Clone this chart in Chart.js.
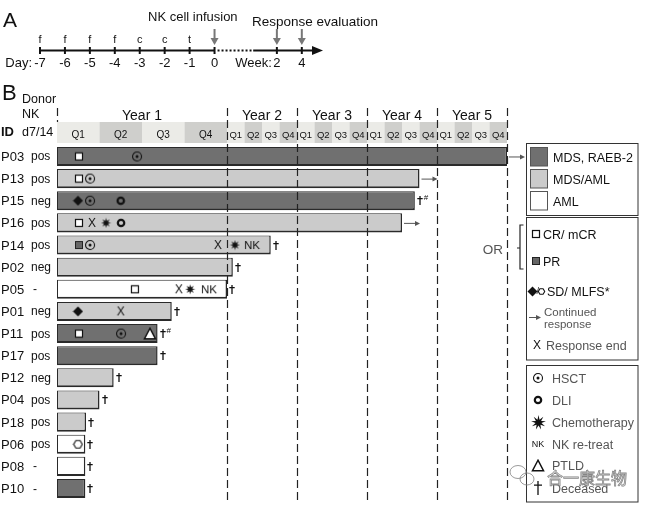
<!DOCTYPE html>
<html>
<head>
<meta charset="utf-8">
<script src="https://cdn.jsdelivr.net/npm/chart.js@4.4.1/dist/chart.umd.min.js"></script>
<style>
	body { margin: 0; background: #fff; }
	#wrap { position: relative; width: 646px; height: 506px; }
	canvas { position: absolute; left: 0; }
	#timeline { top: 0; }
	#swimmer { top: 80px; }
</style>
</head>
<body>
<div id="wrap">
	<canvas id="timeline" width="646" height="80"></canvas>
	<canvas id="swimmer" width="646" height="426"></canvas>
</div>
<script>
// panel A: treatment timeline
const dayPos = [-7, -6, -5, -4, -3, -2, -1, 0];
const dayLabels = ["-7", "-6", "-5", "-4", "-3", "-2", "-1", "0"];
const regimen = ["f", "f", "f", "f", "c", "c", "t"];
const weekPos = [2.5, 3.5];
const weekLabels = ["2", "4"];

// panel B: swimmer plot (months of follow-up)
const patients = ["P03", "P13", "P15", "P16", "P14", "P02", "P05", "P01", "P11", "P17", "P12", "P04", "P18", "P06", "P08", "P10"];
const donorNK = ["pos", "pos", "neg", "pos", "pos", "neg", "-", "neg", "pos", "pos", "neg", "pos", "pos", "pos", "-", "-"];
const diagnosis = ["MDS, RAEB-2", "MDS/AML", "MDS, RAEB-2", "MDS/AML", "MDS/AML", "MDS/AML", "AML", "MDS/AML",
	"MDS, RAEB-2", "MDS, RAEB-2", "MDS/AML", "MDS/AML", "MDS/AML", "AML", "AML", "MDS, RAEB-2"];
const followUp = [60, 45, 44.2, 42, 19.5, 13, 12, 8.1, 7.1, 7.1, 4, 3, 2.05, 2, 2, 2];

const years = ["Year 1", "Year 2", "Year 3", "Year 4", "Year 5"];
const quarters = ["Q1", "Q2", "Q3", "Q4"];

const crMarks = [["P03", 1.55], ["P13", 1.55], ["P16", 1.55], ["P05", 5.5], ["P11", 1.55]];
const prMarks = [["P14", 1.55]];
const sdMarks = [["P15", 1.48], ["P01", 1.48]];
const mlfsMarks = [["P06", 1.48]];
const hsctMarks = [["P03", 5.65], ["P13", 2.33], ["P15", 2.33], ["P14", 2.33], ["P11", 4.52]];
const dliMarks = [["P15", 4.5], ["P16", 4.52]];
const chemoMarks = [["P16", 3.46], ["P14", 13.37], ["P05", 9.4]];
const nkMarks = [["P14", 16.3], ["P05", 10.73]];
const endMarks = [["P16", 2.47], ["P14", 11.36], ["P05", 8.6], ["P01", 4.5]];
const ptldMarks = [["P11", 6.56]];
const deceased = ["P15", "P14", "P02", "P05", "P01", "P11", "P17", "P12", "P04", "P18", "P06", "P08", "P10"];
const hashNote = ["P15", "P11"];
const continued = ["P03", "P13", "P16"];

const diagLabels = ["MDS, RAEB-2", "MDS/AML", "AML"];
const diagColors = ["#707070", "#cbcbcb", "#ffffff"];
const responseLegend = ["CR/ mCR", "PR", "SD/ MLFS*", "Continued", "response", "Response end"];
const eventLegend = ["HSCT", "DLI", "Chemotherapy", "NK re-treat", "PTLD", "Deceased"];

const FONT = "'Liberation Sans', Arial, sans-serif";
Chart.defaults.font.family = FONT;
Chart.defaults.color = "#111";

// year 1 is drawn wider than the later years
const Y1 = 170 / 450;
class SwimScale extends Chart.LinearScale {
	getPixelForValue(v) {
		const f = v <= 12 ? (v / 12) * Y1 : Y1 + ((v - 12) / 48) * (1 - Y1);
		return this.left + f * this.width;
	}
	getValueForPixel(p) {
		const f = (p - this.left) / this.width;
		return f <= Y1 ? (f / Y1) * 12 : 12 + ((f - Y1) / (1 - Y1)) * 48;
	}
}
SwimScale.id = "swim";
SwimScale.defaults = Chart.LinearScale.defaults;
Chart.register(SwimScale);

function makeIcon(w, h, draw) {
	const c = document.createElement("canvas");
	c.width = w;
	c.height = h;
	draw(c.getContext("2d"), w / 2, h / 2);
	return c;
}
function burst(g, cx, cy, ro, ri, n) {
	g.fillStyle = "#111";
	g.beginPath();
	for (let i = 0; i < n * 2; i++) {
		const r = i % 2 ? ri : ro;
		const a = (Math.PI * i) / n - Math.PI / 2;
		g.lineTo(cx + r * Math.cos(a), cy + r * Math.sin(a));
	}
	g.closePath();
	g.fill();
}
function hexagon(g, cx, cy, r) {
	g.fillStyle = "#fff";
	g.strokeStyle = "#111";
	g.lineWidth = 1.1;
	g.beginPath();
	for (let i = 0; i < 6; i++) {
		const a = (Math.PI * i) / 3;
		g.lineTo(cx + r * Math.cos(a), cy + r * Math.sin(a));
	}
	g.closePath();
	g.fill();
	g.stroke();
}
function textIcon(w, h, txt, size) {
	return makeIcon(w, h, (g, cx, cy) => {
		g.fillStyle = "#111";
		g.font = size + "px " + FONT;
		g.textAlign = "center";
		g.textBaseline = "middle";
		g.fillText(txt, cx, cy + 0.5);
	});
}
function daggerIcon(h) {
	return makeIcon(8, h, (g, cx) => {
		g.strokeStyle = "#111";
		g.lineWidth = 1.3;
		g.beginPath();
		g.moveTo(cx, 0);
		g.lineTo(cx, h);
		g.moveTo(cx - h * 0.3, h * 0.3);
		g.lineTo(cx + h * 0.3, h * 0.3);
		g.stroke();
	});
}

const icons = {
	cr: makeIcon(10, 10, (g) => {
		g.fillStyle = "#fff";
		g.fillRect(1, 1, 8, 8);
		g.strokeStyle = "#111";
		g.lineWidth = 1.2;
		g.strokeRect(1.5, 1.5, 7, 7);
	}),
	pr: makeIcon(10, 10, (g) => {
		g.fillStyle = "#666";
		g.fillRect(1, 1, 8, 8);
		g.strokeStyle = "#222";
		g.lineWidth = 1;
		g.strokeRect(1.5, 1.5, 7, 7);
	}),
	sd: makeIcon(11, 11, (g, cx, cy) => {
		g.fillStyle = "#111";
		g.beginPath();
		g.moveTo(cx, 0.5);
		g.lineTo(10.5, cy);
		g.lineTo(cx, 10.5);
		g.lineTo(0.5, cy);
		g.closePath();
		g.fill();
	}),
	mlfs: makeIcon(11, 11, (g, cx, cy) => hexagon(g, cx, cy, 4.3)),
	mlfsSmall: makeIcon(9, 9, (g, cx, cy) => hexagon(g, cx, cy, 3.2)),
	hsct: makeIcon(12, 12, (g, cx, cy) => {
		g.strokeStyle = "#111";
		g.lineWidth = 1.1;
		g.beginPath();
		g.arc(cx, cy, 4.5, 0, Math.PI * 2);
		g.stroke();
		g.fillStyle = "#111";
		g.beginPath();
		g.arc(cx, cy, 1.5, 0, Math.PI * 2);
		g.fill();
	}),
	dli: makeIcon(10, 10, (g, cx, cy) => {
		g.strokeStyle = "#111";
		g.lineWidth = 2.2;
		g.beginPath();
		g.arc(cx, cy, 3.2, 0, Math.PI * 2);
		g.stroke();
	}),
	chemo: makeIcon(11, 11, (g, cx, cy) => burst(g, cx, cy, 5, 2.2, 8)),
	chemoBig: makeIcon(17, 15, (g, cx, cy) => burst(g, cx, cy, 7.5, 3, 9)),
	nk: textIcon(20, 14, "NK", 11.5),
	nkSmall: textIcon(16, 12, "NK", 9),
	end: textIcon(10, 14, "X", 12),
	ptld: makeIcon(14, 13, (g) => {
		g.fillStyle = "#fff";
		g.strokeStyle = "#111";
		g.lineWidth = 1.4;
		g.beginPath();
		g.moveTo(7, 1.2);
		g.lineTo(12.6, 11.8);
		g.lineTo(1.4, 11.8);
		g.closePath();
		g.fill();
		g.stroke();
	}),
	dagger: daggerIcon(9),
	daggerBig: daggerIcon(14),
};

function put(ctx, img, cx, cy) {
	ctx.drawImage(img, Math.round(cx - img.width / 2), Math.round(cy - img.height / 2));
}
function grayArrowDown(ctx, px, top, bottom) {
	ctx.strokeStyle = "#777";
	ctx.fillStyle = "#777";
	ctx.lineWidth = 2;
	ctx.beginPath();
	ctx.moveTo(px, top);
	ctx.lineTo(px, bottom - 6);
	ctx.stroke();
	ctx.beginPath();
	ctx.moveTo(px - 4, bottom - 7);
	ctx.lineTo(px + 4, bottom - 7);
	ctx.lineTo(px, bottom);
	ctx.closePath();
	ctx.fill();
}
function rightArrow(ctx, x0, x1, py) {
	ctx.strokeStyle = "#555";
	ctx.fillStyle = "#555";
	ctx.lineWidth = 1;
	ctx.beginPath();
	ctx.moveTo(x0, py + 0.5);
	ctx.lineTo(x1 - 3, py + 0.5);
	ctx.stroke();
	ctx.beginPath();
	ctx.moveTo(x1, py + 0.5);
	ctx.lineTo(x1 - 5, py - 2);
	ctx.lineTo(x1 - 5, py + 3);
	ctx.closePath();
	ctx.fill();
}

const gapEnd = 1.55;
const timelineDraw = {
	id: "timelineDraw",
	beforeDatasetsDraw(chart) {
		const { ctx, scales: { x, y } } = chart;
		const y0 = y.getPixelForValue(0);
		ctx.save();
		ctx.strokeStyle = "#111";
		ctx.lineWidth = 2;
		ctx.beginPath();
		ctx.moveTo(x.getPixelForValue(dayPos[0]), y0);
		ctx.lineTo(x.getPixelForValue(0), y0);
		ctx.stroke();
		ctx.setLineDash([2, 2]);
		ctx.beginPath();
		ctx.moveTo(x.getPixelForValue(0) + 3, y0);
		ctx.lineTo(x.getPixelForValue(gapEnd), y0);
		ctx.stroke();
		ctx.setLineDash([]);
		ctx.beginPath();
		ctx.moveTo(x.getPixelForValue(gapEnd), y0);
		ctx.lineTo(x.right - 8, y0);
		ctx.stroke();
		ctx.fillStyle = "#111";
		ctx.beginPath();
		ctx.moveTo(x.right, y0);
		ctx.lineTo(x.right - 11, y0 - 4.5);
		ctx.lineTo(x.right - 11, y0 + 4.5);
		ctx.closePath();
		ctx.fill();
		ctx.restore();
	},
	afterDraw(chart) {
		const { ctx, scales: { x } } = chart;
		ctx.save();
		ctx.fillStyle = "#111";
		ctx.font = "21px " + FONT;
		ctx.fillText("A", 3, 27);
		ctx.font = "13px " + FONT;
		ctx.fillText("NK cell infusion", 148, 21);
		ctx.font = "13.5px " + FONT;
		ctx.fillText("Response evaluation", 252, 26);

		ctx.font = "11px " + FONT;
		ctx.textAlign = "center";
		regimen.forEach((r, i) => ctx.fillText(r, x.getPixelForValue(dayPos[i]), 43));

		ctx.font = "13px " + FONT;
		dayLabels.forEach((l, i) => ctx.fillText(l, x.getPixelForValue(dayPos[i]), 67));
		weekLabels.forEach((l, i) => ctx.fillText(l, x.getPixelForValue(weekPos[i]), 67));
		ctx.textAlign = "right";
		ctx.fillText("Day:", x.getPixelForValue(dayPos[0]) - 8, 67);
		ctx.fillText("Week:", x.getPixelForValue(weekPos[0]) - 5, 67);

		grayArrowDown(ctx, x.getPixelForValue(0), 29, 45);
		weekPos.forEach((p) => grayArrowDown(ctx, x.getPixelForValue(p), 29, 45));
		ctx.restore();
	},
};

new Chart(document.getElementById("timeline"), {
	type: "scatter",
	data: {
		datasets: [
			{
				data: dayPos.concat(weekPos).map((p) => ({ x: p, y: 0 })),
				pointStyle: "line",
				rotation: 90,
				radius: 3.5,
				borderColor: "#111",
				borderWidth: 2,
				clip: false,
			},
		],
	},
	options: {
		responsive: false,
		animation: false,
		devicePixelRatio: 1,
		events: [],
		layout: { padding: { left: 40, right: 323, top: 45, bottom: 24 } },
		scales: {
			x: { type: "linear", min: -7, max: 4.35, display: false },
			y: { type: "linear", min: -1, max: 1, display: false },
		},
		plugins: { legend: { display: false }, tooltip: { enabled: false } },
	},
	plugins: [timelineDraw],
});

const swimDraw = {
	id: "swimDraw",
	beforeDatasetsDraw(chart) {
		const { ctx, scales: { x } } = chart;
		ctx.save();
		ctx.textAlign = "center";
		for (let yr = 0; yr < years.length; yr++) {
			for (let q = 0; q < quarters.length; q++) {
				const m0 = yr * 12 + q * 3;
				const x0 = x.getPixelForValue(m0);
				const x1 = x.getPixelForValue(m0 + 3);
				ctx.fillStyle = q % 2 ? "#cfcfcc" : "#ebebe7";
				ctx.fillRect(x0, 42, x1 - x0, 21);
				ctx.fillStyle = "#111";
				ctx.font = (yr === 0 ? "10px " : "9.5px ") + FONT;
				ctx.fillText(quarters[q], (x0 + x1) / 2, 57.5);
			}
			ctx.font = "14px " + FONT;
			ctx.fillText(years[yr], x.getPixelForValue(yr * 12 + 6), 40);
		}
		ctx.textAlign = "left";
		ctx.font = "22px " + FONT;
		ctx.fillText("B", 2, 20);
		ctx.font = "12.5px " + FONT;
		ctx.fillText("Donor", 22, 23);
		ctx.fillText("NK", 22, 38);
		ctx.fillText("d7/14", 22, 56);
		ctx.font = "bold 13px " + FONT;
		ctx.fillText("ID", 1, 56);
		ctx.restore();
	},
	afterDatasetsDraw(chart) {
		const { ctx, scales: { x, y } } = chart;
		ctx.save();

		// year separators
		ctx.strokeStyle = "#222";
		ctx.lineWidth = 1.2;
		ctx.setLineDash([8, 4]);
		ctx.beginPath();
		for (let k = 1; k <= years.length; k++) {
			const px = Math.round(x.getPixelForValue(12 * k)) + 0.5;
			ctx.moveTo(px, 28);
			ctx.lineTo(px, 420);
		}
		ctx.moveTo(x.left + 0.5, 28);
		ctx.lineTo(x.left + 0.5, 42);
		ctx.stroke();
		ctx.setLineDash([]);

		// row labels
		ctx.fillStyle = "#111";
		ctx.textAlign = "left";
		patients.forEach((id, i) => {
			const py = y.getPixelForValue(i);
			ctx.font = "13px " + FONT;
			ctx.fillText(id, 1, py + 4.5);
			ctx.font = "12px " + FONT;
			ctx.fillText(donorNK[i], donorNK[i] === "-" ? 33 : 31, py + 4);
		});

		// bar-end notes
		deceased.forEach((id) => {
			const i = patients.indexOf(id);
			put(ctx, icons.dagger, x.getPixelForValue(followUp[i]) + 5, y.getPixelForValue(i));
		});
		ctx.font = "8px " + FONT;
		hashNote.forEach((id) => {
			const i = patients.indexOf(id);
			ctx.fillText("#", x.getPixelForValue(followUp[i]) + 9, y.getPixelForValue(i) - 1);
		});
		continued.forEach((id) => {
			const i = patients.indexOf(id);
			const px = x.getPixelForValue(followUp[i]);
			rightArrow(ctx, px + 2, px + 18, y.getPixelForValue(i));
		});

		// legend: diagnosis
		ctx.strokeStyle = "#333";
		ctx.lineWidth = 1;
		ctx.strokeRect(526.5, 63.5, 111.5, 72);
		ctx.font = "12.5px " + FONT;
		diagLabels.forEach((l, i) => {
			const top = 67.5 + i * 22;
			ctx.fillStyle = diagColors[i];
			ctx.fillRect(530.5, top, 17, 18.5);
			ctx.strokeStyle = "#555";
			ctx.strokeRect(530.5, top, 17, 18.5);
			ctx.fillStyle = "#111";
			ctx.fillText(l, 553, top + 14);
		});

		// legend: response
		ctx.strokeStyle = "#333";
		ctx.strokeRect(526.5, 137.5, 111.5, 142.5);
		put(ctx, icons.cr, 535.5, 154);
		ctx.fillText(responseLegend[0], 543, 158.5);
		put(ctx, icons.pr, 535.5, 181);
		ctx.fillText(responseLegend[1], 543, 185.5);
		put(ctx, icons.sd, 532, 211);
		ctx.font = "9px " + FONT;
		ctx.fillText("/", 536.5, 214);
		put(ctx, icons.mlfsSmall, 541, 211);
		ctx.font = "12.5px " + FONT;
		ctx.fillText(responseLegend[2], 547, 215.5);
		rightArrow(ctx, 529, 541, 237);
		ctx.font = "11.5px " + FONT;
		ctx.fillText(responseLegend[3], 544, 236);
		ctx.fillText(responseLegend[4], 544, 248);
		put(ctx, icons.end, 537, 265);
		ctx.font = "12.5px " + FONT;
		ctx.fillText(responseLegend[5], 546, 269.5);

		// OR bracket
		ctx.strokeStyle = "#222";
		ctx.lineWidth = 1.2;
		ctx.beginPath();
		ctx.moveTo(523.5, 145);
		ctx.lineTo(520, 145);
		ctx.lineTo(520, 189);
		ctx.lineTo(523.5, 189);
		ctx.moveTo(520, 168);
		ctx.lineTo(517, 168);
		ctx.stroke();
		ctx.font = "13.5px " + FONT;
		ctx.textAlign = "right";
		ctx.fillText("OR", 503, 174);
		ctx.textAlign = "left";

		// legend: events
		ctx.strokeStyle = "#333";
		ctx.lineWidth = 1;
		ctx.strokeRect(526.5, 285.5, 111.5, 136.5);
		const evIcons = [icons.hsct, icons.dli, icons.chemoBig, icons.nkSmall, icons.ptld, icons.daggerBig];
		const evY = [298, 320, 342.5, 364, 385, 408];
		ctx.font = "12.5px " + FONT;
		eventLegend.forEach((l, i) => {
			put(ctx, evIcons[i], 538, evY[i]);
			ctx.fillText(l, 552, evY[i] + 4.5);
		});

		// watermark
		ctx.strokeStyle = "rgba(130,130,130,0.8)";
		ctx.lineWidth = 1;
		ctx.beginPath();
		ctx.ellipse(518, 392, 8, 6.5, 0, 0, Math.PI * 2);
		ctx.stroke();
		ctx.beginPath();
		ctx.ellipse(527, 399, 7, 6, 0, 0, Math.PI * 2);
		ctx.stroke();
		ctx.font = "16px 'Noto Sans CJK SC', sans-serif";
		ctx.fillStyle = "rgba(255,255,255,0.55)";
		ctx.fillText("合一康生物", 547, 404);
		ctx.lineWidth = 0.8;
		ctx.strokeStyle = "rgba(120,120,120,0.9)";
		ctx.strokeText("合一康生物", 547, 404);
		ctx.restore();
	},
};

function markerSet(marks, img) {
	return {
		type: "scatter",
		data: marks.map((m) => ({ x: m[1], y: m[0] })),
		pointStyle: img,
		radius: 5,
		clip: false,
		order: 0,
	};
}

new Chart(document.getElementById("swimmer"), {
	type: "bar",
	data: {
		labels: patients,
		datasets: [
			{
				data: followUp,
				backgroundColor: diagnosis.map((d) => diagColors[diagLabels.indexOf(d)]),
				borderColor: "#2a2a2a",
				borderWidth: { top: 1, left: 1, right: 1.5, bottom: 2 },
				borderSkipped: false,
				barPercentage: 0.86,
				categoryPercentage: 1,
				order: 10,
			},
			markerSet(crMarks, icons.cr),
			markerSet(prMarks, icons.pr),
			markerSet(sdMarks, icons.sd),
			markerSet(mlfsMarks, icons.mlfs),
			markerSet(hsctMarks, icons.hsct),
			markerSet(dliMarks, icons.dli),
			markerSet(chemoMarks, icons.chemo),
			markerSet(nkMarks, icons.nk),
			markerSet(endMarks, icons.end),
			markerSet(ptldMarks, icons.ptld),
		],
	},
	options: {
		indexAxis: "y",
		responsive: false,
		animation: false,
		devicePixelRatio: 1,
		events: [],
		layout: { padding: { left: 57, right: 139, top: 65.4, bottom: 6.4 } },
		scales: {
			x: { type: "swim", min: 0, max: 60, display: false },
			y: { type: "category", display: false, offset: true },
		},
		plugins: { legend: { display: false }, tooltip: { enabled: false } },
	},
	plugins: [swimDraw],
});
</script>
</body>
</html>
